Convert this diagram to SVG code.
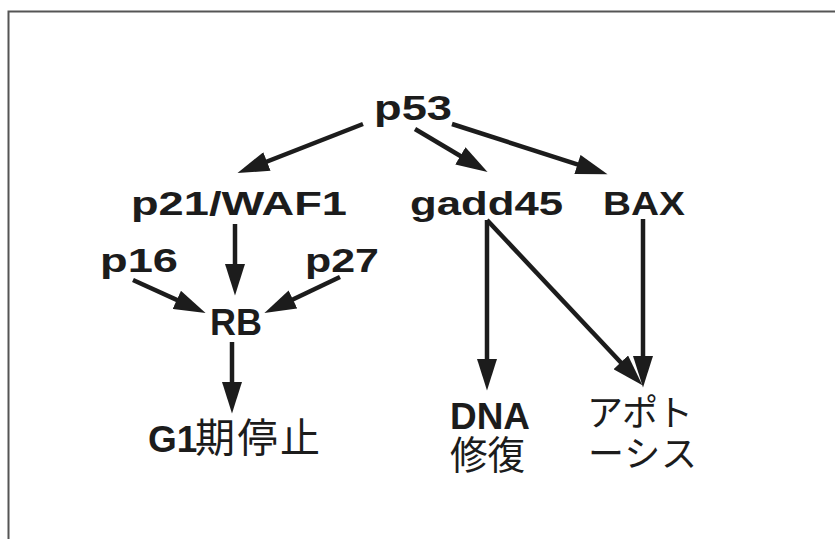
<svg xmlns="http://www.w3.org/2000/svg" width="835" height="539" viewBox="0 0 835 539">
<style>
.lat{font-family:"Liberation Sans","Noto Sans CJK JP",sans-serif;font-weight:bold;fill:#1c1c1c}
.cjk{font-family:"Noto Sans CJK JP","Liberation Sans",sans-serif;font-weight:normal;fill:#1c1c1c}
.edge{stroke:#1c1c1c;stroke-width:4.5;fill:none;marker-end:url(#ah)}
</style>
<defs>
<marker id="ah" markerUnits="userSpaceOnUse" markerWidth="32" markerHeight="20" refX="20" refY="9.5" orient="auto" viewBox="0 0 30 19">
<path d="M0,0 L30,9.5 L0,19 z" fill="#1c1c1c"/>
</marker>
</defs>
<rect x="0" y="0" width="835" height="539" fill="#fff"/>
<rect x="8.5" y="11.5" width="900" height="600" fill="none" stroke="#555" stroke-width="2"/>
<g id="connectors">
<line class="edge" x1="363" y1="124" x2="247.3" y2="169.2"/>
<line class="edge" x1="415" y1="129" x2="478.5" y2="166.7"/>
<line class="edge" x1="452" y1="124" x2="597.5" y2="170.9"/>
<line class="edge" x1="235" y1="224" x2="235" y2="285"/>
<line class="edge" x1="133" y1="280" x2="196" y2="308.6"/>
<line class="edge" x1="340" y1="277" x2="273.9" y2="308.5"/>
<line class="edge" x1="232" y1="342" x2="232" y2="403"/>
<line class="edge" x1="487" y1="220" x2="487" y2="380"/>
<line class="edge" x1="487" y1="220" x2="635.2" y2="377.7"/>
<line class="edge" x1="643" y1="219" x2="643" y2="377"/>
</g>
<g id="p53"><text class="lat" x="374" y="120" font-size="35" textLength="78" lengthAdjust="spacingAndGlyphs">p53</text></g>
<g id="p21"><text class="lat" x="131" y="215" font-size="33" textLength="216" lengthAdjust="spacingAndGlyphs">p21/WAF1</text></g>
<g id="gadd45"><text class="lat" x="410" y="215" font-size="33" textLength="153" lengthAdjust="spacingAndGlyphs">gadd45</text></g>
<g id="BAX"><text class="lat" x="603" y="215" font-size="33" textLength="82" lengthAdjust="spacingAndGlyphs">BAX</text></g>
<g id="p16"><text class="lat" x="100" y="272" font-size="33" textLength="78" lengthAdjust="spacingAndGlyphs">p16</text></g>
<g id="p27"><text class="lat" x="305" y="272" font-size="33" textLength="74" lengthAdjust="spacingAndGlyphs">p27</text></g>
<g id="RB"><text class="lat" x="210" y="335" font-size="37" textLength="52" lengthAdjust="spacingAndGlyphs">RB</text></g>
<g id="G1"><text x="148" y="452"><tspan class="lat" font-size="37">G1</tspan><tspan class="cjk" font-size="40" x="195" textLength="125" lengthAdjust="spacing">期停止</tspan></text></g>
<g id="DNA"><text x="450" y="429"><tspan class="lat" font-size="36" textLength="80" lengthAdjust="spacingAndGlyphs">DNA</tspan><tspan class="cjk" x="450" y="469" font-size="39" textLength="75" lengthAdjust="spacingAndGlyphs">修復</tspan></text></g>
<g id="apoptosis"><text class="cjk" font-size="36"><tspan x="587" y="426" textLength="106" lengthAdjust="spacing">アポト</tspan><tspan x="588" y="467" textLength="109" lengthAdjust="spacing">ーシス</tspan></text></g>
</svg>
